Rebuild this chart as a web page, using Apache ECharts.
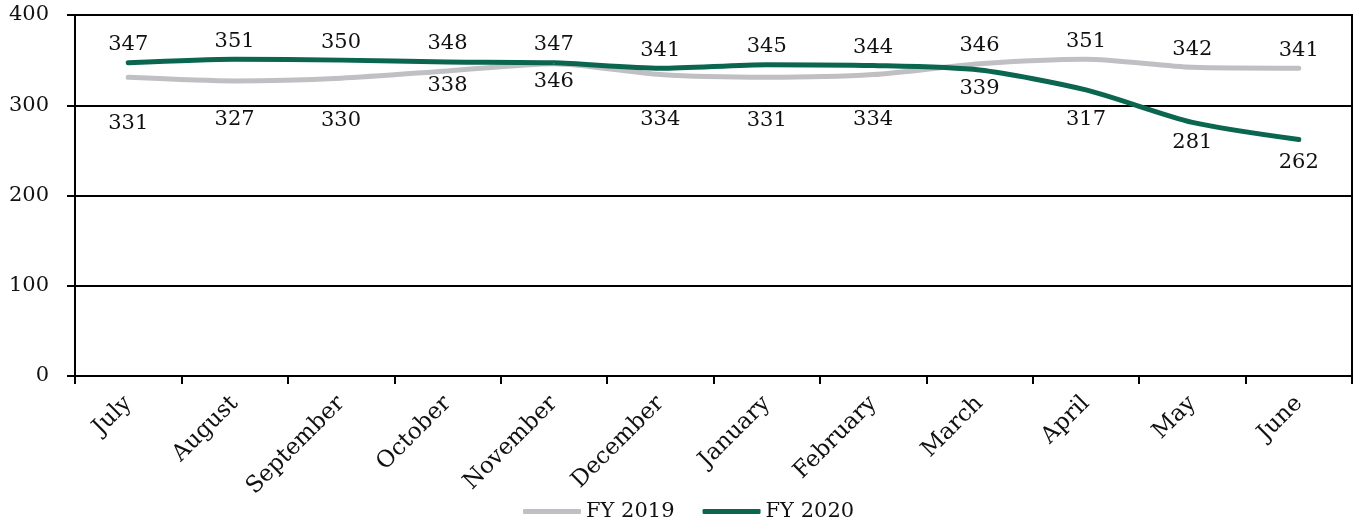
<!DOCTYPE html>
<html>
<head>
<meta charset="utf-8">
<script src="https://cdn.jsdelivr.net/npm/echarts@6/dist/echarts.min.js"></script>
<style>
html, body { margin: 0; padding: 0; background: #fff; }
#chart { width: 1356px; height: 529px; }
</style>
</head>
<body>
<div id="chart"></div>
<script>
var months = ['July', 'August', 'September', 'October', 'November', 'December',
    'January', 'February', 'March', 'April', 'May', 'June'];
var fy2019 = [331, 327, 330, 338, 346, 334, 331, 334, 346, 351, 342, 341];
var fy2020 = [347, 351, 350, 348, 347, 341, 345, 344, 339, 317, 281, 262];
var yTicks = [0, 100, 200, 300, 400];

// label placement (style only): which side of the line and how far
var pos2019 = ['bottom', 'bottom', 'bottom', 'bottom', 'bottom', 'bottom', 'bottom', 'bottom', 'top', 'top', 'top', 'top'];
var gap2019 = [35, 28, 31, 4, 7, 34, 32, 34, 7, 7, 7, 7];
var pos2020 = ['top', 'top', 'top', 'top', 'top', 'top', 'top', 'top', 'bottom', 'bottom', 'bottom', 'bottom'];
var gap2020 = [7, 7, 7, 7, 7, 7, 7, 7, 7, 19, 9, 12];

var FONT = 'DejaVu Serif';

function withLabels(values, positions, gaps) {
    var out = [];
    for (var i = 0; i < values.length; i++) {
        out.push({
            value: values[i],
            label: { position: positions[i], distance: gaps[i] }
        });
    }
    return out;
}

function makeSeries(name, color, values, positions, gaps) {
    return {
        name: name,
        type: 'line',
        smooth: 0.25,
        symbol: 'circle',
        symbolSize: 1,
        itemStyle: { color: color },
        lineStyle: { color: color, width: 5, cap: 'round', join: 'round' },
        label: {
            show: true,
            color: '#111',
            fontFamily: FONT,
            fontSize: 21
        },
        data: withLabels(values, positions, gaps)
    };
}

var chart = echarts.init(document.getElementById('chart'));
chart.setOption({
    animation: false,
    grid: {
        left: 75, right: 4, top: 15, bottom: 153,
        show: true, borderColor: '#000', borderWidth: 2
    },
    legend: {
        bottom: 2,
        left: 518,
        icon: 'roundRect',
        itemWidth: 58,
        itemHeight: 5,
        itemGap: 28,
        textStyle: { fontFamily: FONT, fontSize: 21, color: '#111' },
        data: ['FY 2019', 'FY 2020']
    },
    xAxis: {
        type: 'category',
        data: months,
        boundaryGap: true,
        axisLine: { lineStyle: { color: '#000', width: 2 } },
        axisTick: { show: true, length: 8, lineStyle: { color: '#000', width: 2 } },
        axisLabel: {
            rotate: 45,
            margin: 24,
            interval: 0,
            color: '#111',
            fontFamily: FONT,
            fontSize: 23
        },
        splitLine: { show: false }
    },
    yAxis: {
        type: 'value',
        min: yTicks[0],
        max: yTicks[yTicks.length - 1],
        interval: 100,
        axisLine: { show: true, lineStyle: { color: '#000', width: 2 } },
        axisTick: { show: true, length: 8, lineStyle: { color: '#000', width: 2 } },
        axisLabel: {
            margin: 26,
            color: '#111',
            fontFamily: FONT,
            fontSize: 21
        },
        splitLine: { lineStyle: { color: '#000', width: 2 } }
    },
    series: [
        makeSeries('FY 2019', '#c0c0c4', fy2019, pos2019, gap2019),
        makeSeries('FY 2020', '#0b6650', fy2020, pos2020, gap2020)
    ]
});
</script>
</body>
</html>
